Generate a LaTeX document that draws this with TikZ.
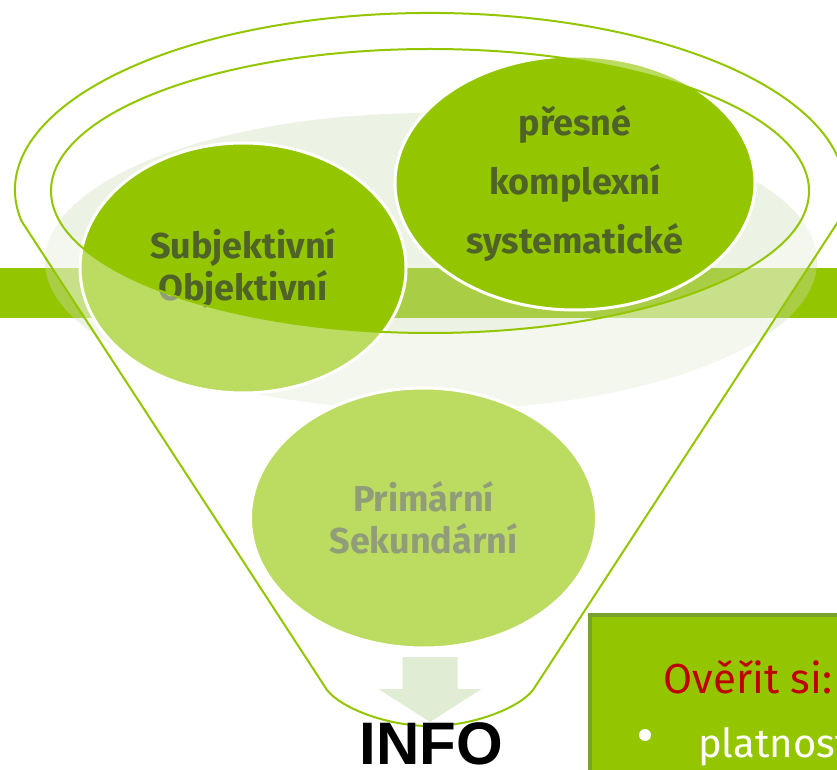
\documentclass[tikz,border=0pt]{standalone}
\usepackage{fontspec}
\setmainfont{Fira Sans}
\newfontfamily\infofont{Liberation Sans}
\usepackage{xcolor}
\usepackage{tikz}
\usetikzlibrary {
  shapes.geometric,
  positioning,
}
\definecolor{leaf}{HTML}{94C600}
\definecolor{leafdark}{HTML}{78A22C}
\definecolor{bark}{HTML}{4F6228}
\definecolor{mist}{HTML}{CDDDB8}
\definecolor{pale}{HTML}{E0ECD3}
\definecolor{alert}{HTML}{C00000}
\tikzset{
  bubble/.style = {
    ellipse,
    fill = leaf,
    draw = white,
    line width = 3pt,
    inner sep = 0pt,
    text = bark,
    align = center,
    font = \bfseries\fontsize{36}{42}\selectfont
  },
  rim/.style = {
    draw = leaf,
    line width = 2pt
  },
  glass/.style = {
    fill = white,
    fill opacity = .38,
    even odd rule
  },
  box/.style = {
    rectangle,
    fill = leaf,
    draw = leafdark,
    line width = 4pt,
    minimum width = 280pt,
    minimum height = 190pt
  },
  note/.style = {
    anchor = base,
    inner sep = 0pt,
    font = \fontsize{42}{50}\selectfont
  },
}

\begin{document}
\begin{tikzpicture}[x = 1pt, y = 1pt]
  \useasboundingbox (0,0) rectangle (837,769);
  \clip (0,0) rectangle (837,769);
  % band and light disc behind the funnel
  \fill[leaf] (0,451) rectangle (837,501);
  \fill[mist, fill opacity = .38] (431,507.5) ellipse [x radius = 386, y radius = 148.5];
  % bubbles
  \node[bubble, minimum width = 360pt, minimum height = 254pt,
        font = \bfseries\fontsize{36}{59}\selectfont] (pres) at (575,586)
        {přesné\\komplexní\\systematické};
  \node[bubble, minimum width = 326pt, minimum height = 250pt] (subj) at (243,501)
        {Subjektivní\\Objektivní};
  \node[bubble, minimum width = 346pt, minimum height = 260pt] (prim) at (423.5,251)
        {Primární\\Sekundární};
  % funnel body
  \path[glass] (21.3,548.3) arc [start angle = 190, end angle = -10, x radius = 415, y radius = 177]
    -- (533,79) .. controls (520,62) and (475,43) .. (430,43)
    .. controls (385,43) and (340,62) .. (327,79) -- cycle
    (430,578) ellipse [x radius = 379, y radius = 142];
  \draw[rim] (21.3,548.3) arc [start angle = 190, end angle = -10, x radius = 415, y radius = 177]
    -- (533,79) .. controls (520,62) and (475,43) .. (430,43)
    .. controls (385,43) and (340,62) .. (327,79) -- cycle;
  \draw[rim] (430,578) ellipse [x radius = 379, y radius = 142];
  % arrow out of the funnel
  \coordinate (tip) at (430,47);
  \fill[pale] (tip) -- ++(-51.5,33) -- ++(24,0) -- ++(0,32) -- ++(55,0)
    -- ++(0,-32) -- ++(24,0) -- cycle;
  \node[anchor = base, inner sep = 0pt, font = \infofont\bfseries\fontsize{60}{70}\selectfont]
    (info) at (431,5) {INFO};
  % check box
  \node[box, anchor = north west] (check) at (588,156) {};
  \node[note, text = alert] (verify) at (748,76) {Ověřit si:};
  \node[circle, fill = white, minimum size = 12pt, inner sep = 0pt] (dot) at (645,34) {};
  \node[note, text = white, anchor = base west, font = \fontsize{40}{48}\selectfont]
    (valid) at (698,12) {platnost};
\end{tikzpicture}
\end{document}
